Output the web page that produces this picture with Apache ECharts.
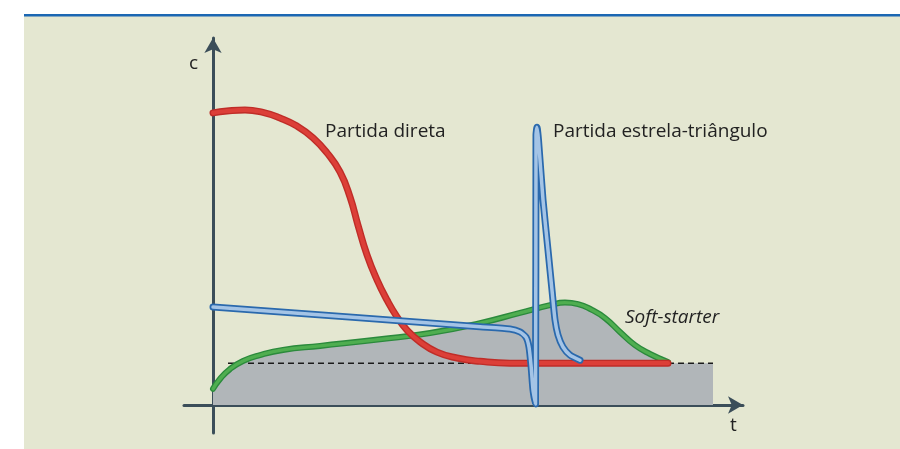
<!DOCTYPE html>
<html>
<head>
<meta charset="utf-8">
<script src="https://cdn.jsdelivr.net/npm/echarts@6/dist/echarts.min.js"></script>
<style>
  html, body { margin: 0; padding: 0; background: #fff; }
  #chart { width: 900px; height: 449px; }
</style>
</head>
<body>
<div id="chart"></div>
<script>
// curves, t (x) and c (y) in arbitrary units
var direta = [
  [0, 79.6], [2.8, 80.1], [6.4, 80.4], [9.8, 79.8], [13.4, 78.2], [16.8, 76.0],
  [20, 72.8], [22.8, 68.7], [25.4, 63.5], [27.4, 56.7], [29, 49.0], [30.8, 40.9],
  [32.8, 34.1], [34.8, 28.6], [36.8, 24.0], [38.8, 20.4], [41.4, 17.2], [44.8, 14.4],
  [48.8, 12.8], [53.4, 11.9], [59.4, 11.4], [70, 11.4], [91, 11.4]
]
var estrela = [
  [0, 26.7], [53.4, 21.3], [59.4, 20.7], [61.4, 19.9], [62.6, 18.5], [63.2, 15.8],
  [63.6, 10.9], [64, 4.1], [64.5, 0.3], [64.6, 73.6], [64.8, 75.7], [65.1, 72.2],
  [66, 55.9], [67, 42.2], [67.8, 31.3], [68.4, 23.2], [69, 19.1], [70, 15.8],
  [71.4, 13.6], [73.4, 12.2]
]
var soft = [
  [0, 4.4], [1.4, 7.1], [3.4, 9.8], [6, 12.0], [9.4, 13.6], [14, 15.0], [21.4, 16.1],
  [33.4, 17.9], [43.4, 19.6], [53.4, 22.3], [61.4, 25.1], [67.4, 27.2], [70.4, 27.9],
  [73, 27.5], [75.8, 25.9], [78.4, 23.7], [81.4, 19.9], [84.4, 16.3], [87.4, 13.9],
  [91, 11.7]
]
var carga = [[91, 11.4], [100, 11.4]]
var tracejado = [[3, 11.4], [100, 11.4]]

function tubo(name, data, outer, inner, w, ratio, smooth) {
  var base = { name: name, type: 'line', data: data, symbol: 'none', smooth: smooth, silent: true }
  return [
    Object.assign({}, base, { lineStyle: { color: outer, width: w, cap: 'round', join: 'round' } }),
    Object.assign({}, base, { lineStyle: { color: inner, width: w * ratio, cap: 'round', join: 'round' } })
  ]
}

var chart = echarts.init(document.getElementById('chart'))
var txt = { fill: '#222', fontFamily: 'Open Sans', fontSize: 19 }
chart.setOption({
  animation: false,
  graphic: [
    { type: 'rect', z: -10, shape: { x: 24, y: 16, width: 876, height: 433 }, style: { fill: '#e4e7d1' } },
    { type: 'rect', z: -10, shape: { x: 24, y: 14, width: 876, height: 2.5 }, style: { fill: '#1b67b3' } },
    { type: 'text', z: 100, left: 189, top: 54, style: Object.assign({ text: 'c' }, txt) },
    { type: 'text', z: 100, left: 730, top: 416, style: Object.assign({ text: 't' }, txt) },
    { type: 'text', z: 100, left: 325, top: 122, style: Object.assign({ text: 'Partida direta' }, txt) },
    { type: 'text', z: 100, left: 553, top: 122, style: Object.assign({ text: 'Partida estrela-triângulo' }, txt) },
    { type: 'text', z: 100, left: 625, top: 308, style: Object.assign({ text: 'Soft-starter', fontStyle: 'italic' }, txt) }
  ],
  grid: { left: 184, right: 157, top: 38, bottom: 16 },
  xAxis: {
    type: 'value', min: -5.8, max: 106,
    axisLine: { onZero: true, symbol: ['none', 'arrow'], symbolSize: [13, 15],
      lineStyle: { color: '#3b4e59', width: 3 } },
    axisTick: { show: false }, axisLabel: { show: false }, splitLine: { show: false }
  },
  yAxis: {
    type: 'value', min: -7.63, max: 100,
    axisLine: { onZero: true, symbol: ['none', 'arrow'], symbolSize: [13, 15],
      lineStyle: { color: '#3b4e59', width: 3 } },
    axisTick: { show: false }, axisLabel: { show: false }, splitLine: { show: false }
  },
  series: [
    { type: 'line', data: soft, symbol: 'none', smooth: 0.5, silent: true, z: 1,
      lineStyle: { width: 0 }, areaStyle: { color: '#b1b6b9', opacity: 1 } },
    { type: 'line', data: carga, symbol: 'none', silent: true, z: 1,
      lineStyle: { width: 0 }, areaStyle: { color: '#b1b6b9', opacity: 1 } },
    { type: 'line', data: tracejado, symbol: 'none', silent: true, z: 1,
      lineStyle: { color: '#1a1a1a', width: 1.5, type: [6, 4] } }
  ]
    .concat(tubo('Soft-starter', soft, '#2b8a3c', '#4fae50', 6, 0.55, 0.5))
    .concat(tubo('Partida direta', direta, '#bf2d28', '#dc3f38', 7, 0.6, 0.5))
    .concat(tubo('Partida estrela-triângulo', estrela, '#2a69ad', '#a4c4e6', 7, 0.5, 0.2))
})
</script>
</body>
</html>
